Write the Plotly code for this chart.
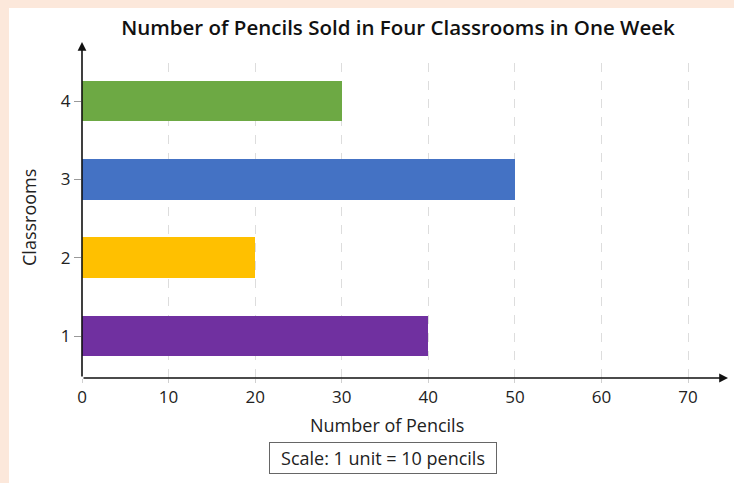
import plotly.graph_objects as go

classrooms = ["1", "2", "3", "4"]
pencils = [40, 20, 50, 30]
bar_colors = ["#7030A0", "#FFC000", "#4472C4", "#6DA944"]
x_ticks = [0, 10, 20, 30, 40, 50, 60, 70]

W, H = 734, 483
L, R, T, B = 82, 9, 63, 105
pw, ph = W - L - R, H - T - B

def px(p):
    return (p - L) / pw

def py(p):
    return (H - B - p) / ph

FONT = "Open Sans"
PEACH = "#FCE8DB"

fig = go.Figure(go.Bar(
    y=[float(c) for c in classrooms], x=pencils, orientation="h",
    marker=dict(color=bar_colors, line=dict(width=0)), width=0.52,
))

fig.update_layout(
    width=W, height=H,
    margin=dict(l=L, r=R, t=T, b=B),
    paper_bgcolor=PEACH, plot_bgcolor="white",
    font=dict(family=FONT, color="#222", size=17),
    showlegend=False,
    title=dict(text="Number of Pencils Sold in Four Classrooms in One Week",
               font=dict(family=FONT, size=20.5, color="#111", weight=600),
               x=398 / W, xanchor="center", y=1 - 28 / H, yanchor="middle",
               xref="container", yref="container"),
    xaxis=dict(range=[0, 74.27], tickvals=x_ticks, ticktext=[str(v) for v in x_ticks],
               showgrid=True, gridcolor="#DDDDDD", griddash="dash", gridwidth=1,
               zeroline=False, showline=False, ticks="outside", ticklen=4,
               tickcolor="#D0D0D0", tickfont=dict(size=17, color="#222")),
    yaxis=dict(range=[0.464, 4.487], tickvals=[1, 2, 3, 4], ticktext=classrooms,
               showgrid=False, zeroline=False, showline=False, ticks="outside",
               ticklen=7, tickcolor="#999999", tickfont=dict(size=17, color="#222")),
    bargap=0,
)

shapes = [dict(type="rect", xref="paper", yref="paper",
               x0=px(9), x1=px(W + 5), y0=py(H + 5), y1=py(8),
               fillcolor="white", line=dict(width=0), layer="below")]
fig.update_layout(shapes=shapes)

annotations = [
    dict(xref="paper", yref="paper", x=px(728), y=0, ax=-(728 - L), ay=0,
         axref="pixel", ayref="pixel", showarrow=True, arrowhead=2, arrowsize=1.1,
         arrowwidth=1.6, arrowcolor="#111", text=""),
    dict(xref="paper", yref="paper", x=0, y=py(42), ax=0, ay=(H - B) - 42,
         axref="pixel", ayref="pixel", showarrow=True, arrowhead=2, arrowsize=1.1,
         arrowwidth=1.6, arrowcolor="#111", text=""),
    dict(xref="paper", yref="paper", x=px(387), y=py(425), text="Number of Pencils",
         showarrow=False, xanchor="center", yanchor="middle",
         font=dict(size=18, color="#222")),
    dict(xref="paper", yref="paper", x=px(29), y=py(218), text="Classrooms",
         textangle=-90, showarrow=False, xanchor="center", yanchor="middle",
         font=dict(size=18, color="#222")),
    dict(xref="paper", yref="paper", x=px(383), y=py(458),
         text="Scale: 1 unit = 10 pencils", showarrow=False,
         xanchor="center", yanchor="middle", width=220, height=24,
         bordercolor="#666", borderwidth=1, borderpad=3, bgcolor="white",
         font=dict(size=18, color="#222")),
]
fig.update_layout(annotations=annotations)

fig.write_html(
    "out.html",
    config={"displayModeBar": False},
    post_script="document.body.style.margin='0';document.body.style.overflow='hidden';"
                f"document.body.style.background='{PEACH}';",
)
